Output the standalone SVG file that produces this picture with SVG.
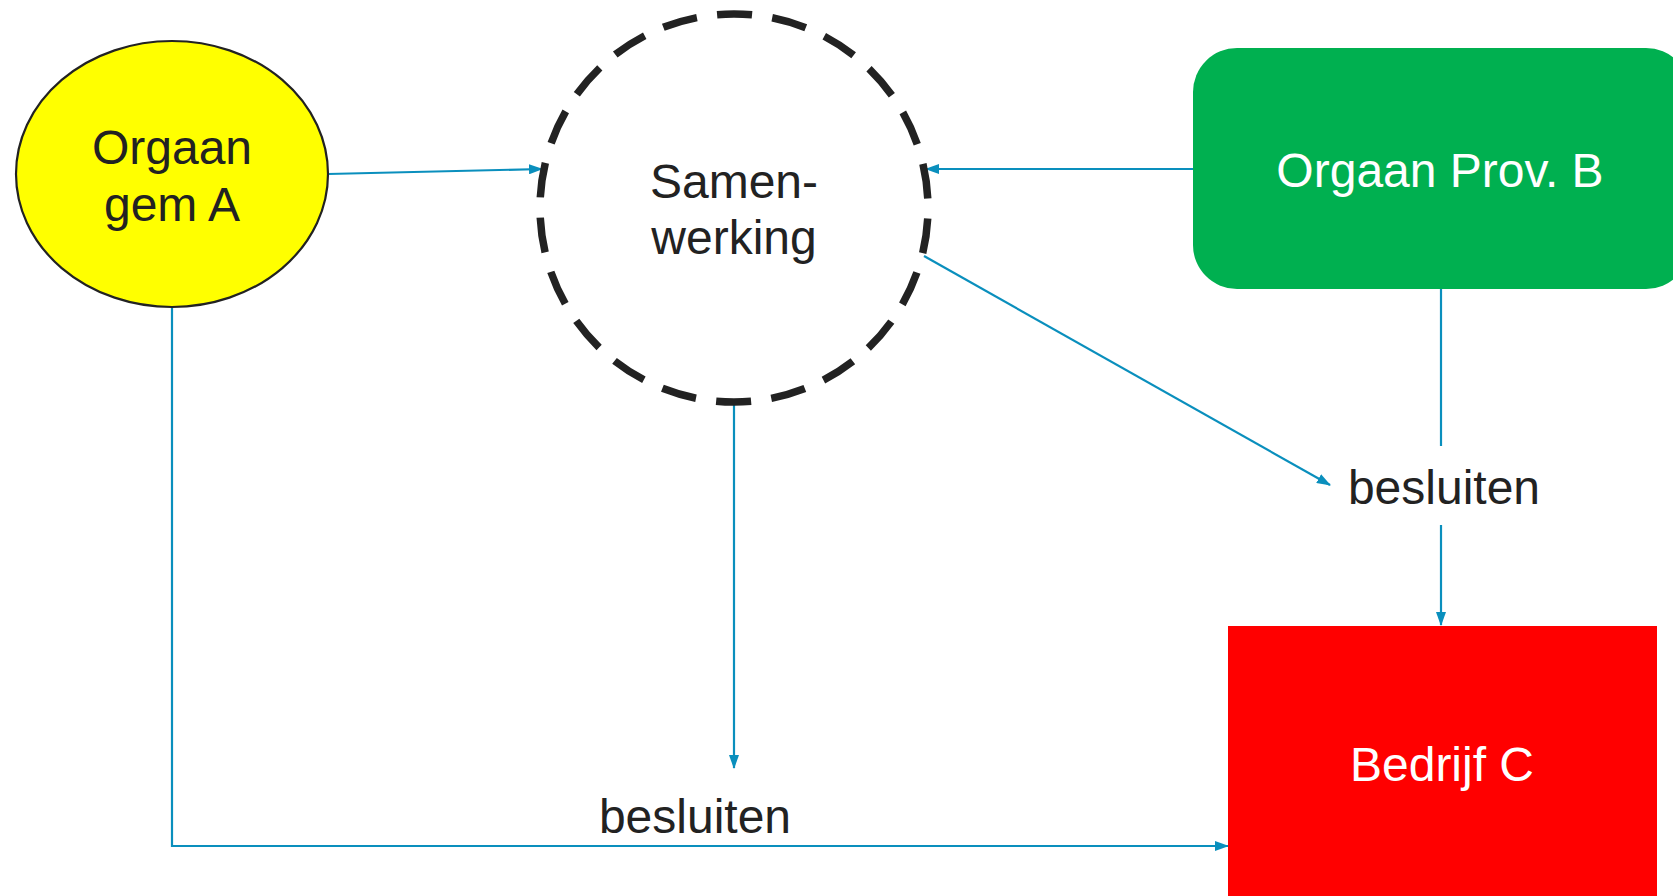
<svg xmlns="http://www.w3.org/2000/svg" width="1673" height="896" viewBox="0 0 1673 896">
<style>
text{font-family:"Liberation Sans",Arial,sans-serif;font-size:48px;text-anchor:middle}
.dk{fill:#222222}
.wt{fill:#ffffff}
.c{fill:none;stroke:#0a8fbd;stroke-width:2.2}
</style>
<defs>
<marker id="ah" viewBox="0 0 14 10" refX="13" refY="5" markerWidth="14" markerHeight="10" markerUnits="userSpaceOnUse" orient="auto">
<path d="M0,0 L14,5 L0,10 Z" fill="#0a8fbd"/>
</marker>
</defs>
<rect width="1673" height="896" fill="#ffffff"/>
<g id="connectors">
<path class="c" d="M328,174 L542,169" marker-end="url(#ah)"/>
<path class="c" d="M1193,169 L926,169" marker-end="url(#ah)"/>
<path class="c" d="M924,256 L1330,485" marker-end="url(#ah)"/>
<path class="c" d="M1441,289 L1441,446"/>
<path class="c" d="M1441,525 L1441,625" marker-end="url(#ah)"/>
<path class="c" d="M734,403 L734,768" marker-end="url(#ah)"/>
<path class="c" d="M172,307 L172,846 L1228,846" marker-end="url(#ah)"/>
</g>
<g id="orgaan-gem-a">
<ellipse cx="172" cy="174" rx="156" ry="133" fill="#ffff00" stroke="#222222" stroke-width="2.2"/>
<text class="dk" x="172" y="164">Orgaan</text>
<text class="dk" x="172" y="221">gem A</text>
</g>
<g id="samenwerking">
<circle cx="734" cy="208" r="194" fill="none" stroke="#222222" stroke-width="7.5" stroke-dasharray="35 20.4" stroke-dashoffset="-10.5"/>
<text class="dk" x="734" y="198">Samen-</text>
<text class="dk" x="734" y="254">werking</text>
</g>
<g id="orgaan-prov-b">
<rect x="1193" y="48" width="497" height="241" rx="44" ry="44" fill="#00b050"/>
<text class="wt" x="1440" y="187">Orgaan Prov. B</text>
</g>
<g id="besluiten-right">
<text class="dk" x="1444" y="504">besluiten</text>
</g>
<g id="bedrijf-c">
<rect x="1228" y="626" width="429" height="280" fill="#ff0000"/>
<text class="wt" x="1442" y="781">Bedrijf C</text>
</g>
<g id="besluiten-bottom">
<text class="dk" x="695" y="833">besluiten</text>
</g>
</svg>
